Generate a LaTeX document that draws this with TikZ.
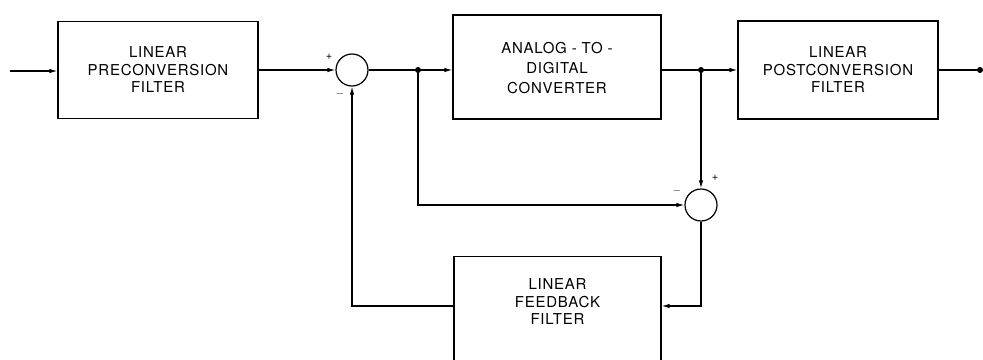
\documentclass[tikz,border=0pt]{standalone}
\usepackage{fontspec}
\setmainfont{TeX Gyre Heros}[LetterSpace=5]
\usetikzlibrary{arrows.meta}
\tikzset{
  blk/.style={draw, line width=1.2pt, inner sep=0pt, align=center,
    font=\fontsize{15}{17.5}\selectfont},
  lbl/.style={inner sep=0pt, align=center, font=\fontsize{15}{17.5}\selectfont},
  sumc/.style={draw, circle, line width=1.2pt, minimum size=32pt, inner sep=0pt},
  wire/.style={line width=1.2pt},
  arr/.style={wire, -{Latex[length=8pt,width=4.5pt]}},
  jdot/.style={circle, fill, inner sep=0pt, minimum size=6pt},
  sgn/.style={inner sep=0pt, font=\fontsize{11}{11}\selectfont}
}
\begin{document}
\begin{tikzpicture}[x=1pt,y=-1pt]
\useasboundingbox (0,0) rectangle (983,359);
\coordinate (in) at (10,71);
\node[blk, minimum width=200pt, minimum height=97pt] (b1) at (158,70) {LINEAR\\PRECONVERSION\\FILTER};
\node[sumc] (s1) at (352,70) {};
\node[blk, minimum width=208pt, minimum height=104pt] (adc) at (557,67) {};
\node[lbl, font=\fontsize{15}{20}\selectfont] (adct) at (557,68.5) {ANALOG - TO -\\DIGITAL\\CONVERTER};
\node[blk, minimum width=200pt, minimum height=98pt] (post) at (838,70) {LINEAR\\POSTCONVERSION\\FILTER};
\node[sumc] (s2) at (701,205) {};
\node[blk, minimum width=207pt, minimum height=130pt, anchor=north] (fb) at (557.5,256) {};
\node[lbl] (fbt) at (557.5,302) {LINEAR\\FEEDBACK\\FILTER};
\node[jdot] (j1) at (418,70) {};
\node[jdot] (j2) at (701,70) {};
\node[jdot] (out) at (980,70) {};
\coordinate (fbl) at (0,306);
% signs
\node[sgn] (p1) at (329,57) {+};
\node[sgn] (m1) at (340,94) {$-$};
\node[sgn] (m2) at (677,191) {$-$};
\node[sgn] (p2) at (715,178) {+};
% connectors
\draw[arr] (in) -- (b1.west |- in);
\draw[arr] (b1.east) -- (s1.west);
\draw[wire] (s1.east) -- (j1.center);
\draw[arr] (j1.center) -- (adc.west |- j1);
\draw[wire] (adc.east |- j2) -- (j2.center);
\draw[arr] (j2.center) -- (post.west);
\draw[wire] (post.east) -- (out.center);
\draw[arr] (j1.center) |- (s2.west);
\draw[arr] (j2.center) -- (s2.north);
\draw[arr] (s2.south) |- (fb.east |- fbl);
\draw[arr] (fb.west |- fbl) -| (s1.south);
\end{tikzpicture}
\end{document}
